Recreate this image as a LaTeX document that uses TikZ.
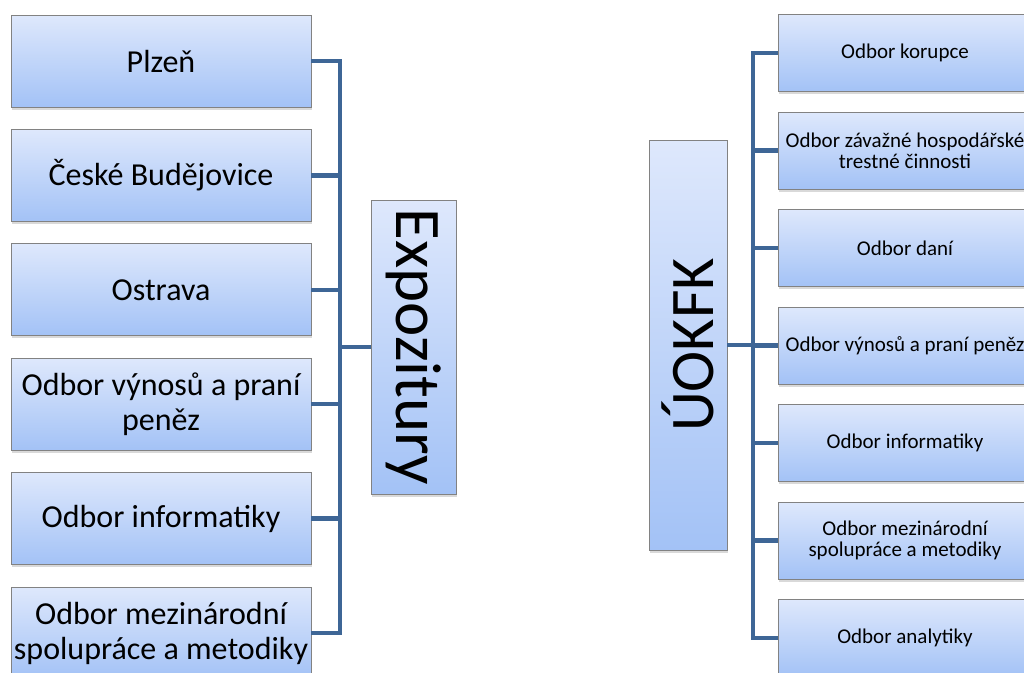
\documentclass[tikz,border=0pt]{standalone}
\usepackage{fontspec}
\setmainfont{Carlito}
\usetikzlibrary{shadows}
\definecolor{boxtop}{RGB}{222,232,252}
\definecolor{boxbot}{RGB}{163,194,246}
\definecolor{boxline}{RGB}{130,130,130}
\definecolor{busline}{RGB}{62,102,150}
\begin{document}
\begin{tikzpicture}[x=1pt, y=-1pt,
    unit/.style={draw=boxline, line width=0.8pt, top color=boxtop, bottom color=boxbot,
      inner sep=1pt, align=center,
      drop shadow={opacity=0.3, shadow xshift=1pt, shadow yshift=-2.5pt}},
    leftunit/.style={unit, minimum width=300pt, minimum height=92pt, font=\fontsize{32}{35}\selectfont},
    rightunit/.style={unit, minimum width=254pt, minimum height=77pt, font=\fontsize{21}{21}\selectfont},
    bus/.style={draw=busline, line width=4.5pt}]
  \clip (0,0) rectangle (1024,672);
  \foreach \t [count=\i] in {Plzeň, České Budějovice, Ostrava, Odbor výnosů a praní\\peněz,
      Odbor informatiky, Odbor mezinárodní\\spolupráce a metodiky}
    \node[leftunit] (l\i) at (161, {61+114.4*(\i-1)}) {\t};
  \foreach \t [count=\i] in {Odbor korupce, Odbor závažné hospodářské\\trestné činnosti, Odbor daní,
      Odbor výnosů a praní peněz, Odbor informatiky, Odbor mezinárodní\\spolupráce a metodiky,
      Odbor analytiky}
    \node[rightunit] (r\i) at (905, {53+97.5*(\i-1)}) {\t};
  \node[unit, minimum width=85pt, minimum height=294pt, font=\fontsize{65}{65}\selectfont]
    (expo) at (413.5, 347) {\rotatebox{-90}{Expozitury}};
  \node[unit, minimum width=78pt, minimum height=410pt, font=\fontsize{62}{62}\selectfont]
    (ukfk) at (688, 345) {\rotatebox{90}{ÚOKFK}};
  \coordinate (lbus) at (340, 347);
  \coordinate (rbus) at (753, 345);
  \foreach \i in {1,...,6}
    \draw[bus] (l\i.east) -| (lbus);
  \draw[bus] (lbus) -- (expo.west);
  \foreach \i in {1,...,7}
    \draw[bus] (r\i.west) -| (rbus);
  \draw[bus] (ukfk.east) -- (rbus);
\end{tikzpicture}
\end{document}
